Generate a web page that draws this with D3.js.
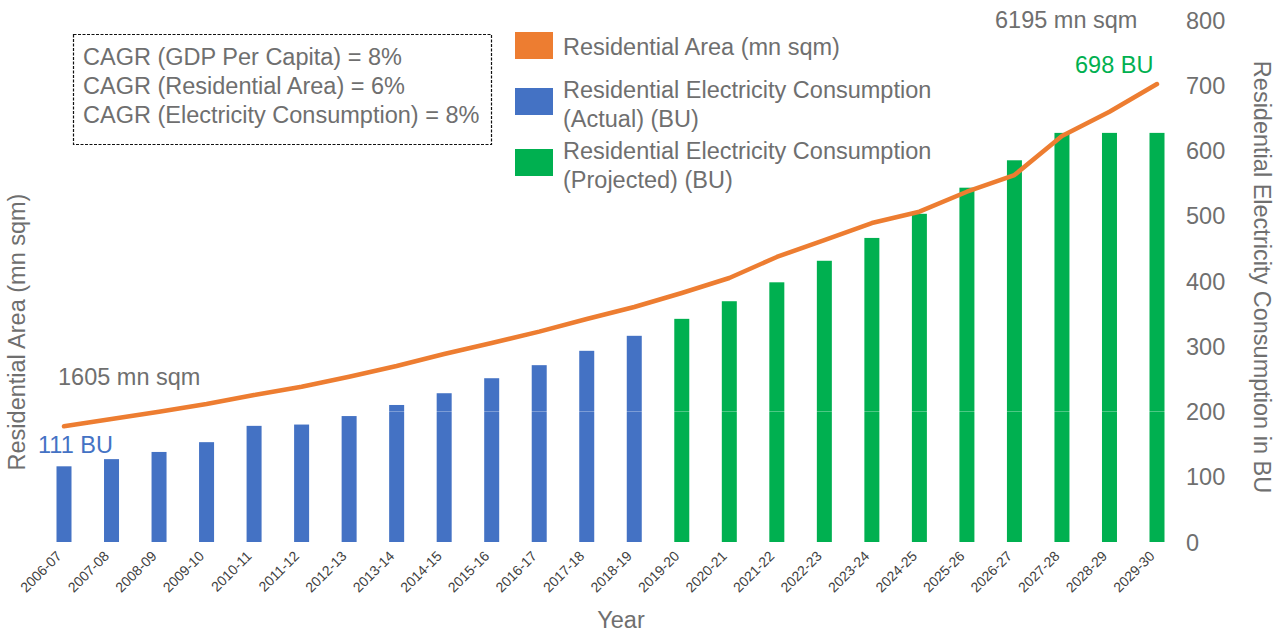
<!DOCTYPE html>
<html>
<head>
<meta charset="utf-8">
<script src="https://cdn.jsdelivr.net/npm/d3@7"></script>
<style>
  html, body { margin: 0; padding: 0; background: #fff; }
  svg { display: block; font-family: "Liberation Sans", Arial, sans-serif; }
</style>
</head>
<body>
<svg id="chart" width="1279" height="635"></svg>
<script>
const years = ["2006-07","2007-08","2008-09","2009-10","2010-11","2011-12","2012-13","2013-14","2014-15","2015-16","2016-17","2017-18","2018-19","2019-20","2020-21","2021-22","2022-23","2023-24","2024-25","2025-26","2026-27","2027-28","2028-29","2029-30"];
const actualYears = ["2006-07","2007-08","2008-09","2009-10","2010-11","2011-12","2012-13","2013-14","2014-15","2015-16","2016-17","2017-18","2018-19"];
const actualBU = [116,127,138,153,178,180,193,210,228,251,271,293,316];
const projectedYears = ["2019-20","2020-21","2021-22","2022-23","2023-24","2024-25","2025-26","2026-27","2027-28","2028-29","2029-30"];
const projectedBU = [342,369,398,431,466,503,543,585,627,627,627];
const areaMnSqm = [1605,1703,1801,1904,2025,2136,2270,2414,2575,2722,2874,3044,3205,3393,3594,3876,4103,4331,4483,4751,4975,5498,5824,6195];
const rightTicks = [0,100,200,300,400,500,600,700,800];
const cagrLines = ["CAGR (GDP Per Capita) = 8%","CAGR (Residential Area) = 6%","CAGR (Electricity Consumption) = 8%"];
const legendItems = [
  {lines:["Residential Area (mn sqm)"], color:"#ED7D31"},
  {lines:["Residential Electricity Consumption","(Actual) (BU)"], color:"#4472C4"},
  {lines:["Residential Electricity Consumption","(Projected) (BU)"], color:"#00B050"}
];

const svg = d3.select("#chart");
const gray = "#6f6f6f";
const orange = "#ED7D31", blue = "#4472C4", green = "#00B050";
const fs = "23.5px";

const x = d3.scalePoint().domain(years).range([64, 1157]);
const yR = d3.scaleLinear().domain([0, 800]).range([542, 20]);
const yL = d3.scaleLinear().domain([0, 7000]).range([546, 24]); // hidden axis for area
const barW = 15;

// bars
svg.append("g").selectAll("rect").data(actualYears.map((d,i)=>({y:d,v:actualBU[i]})))
  .join("rect")
  .attr("x", d => x(d.y) - barW/2).attr("width", barW)
  .attr("y", d => yR(d.v)).attr("height", d => yR(0) - yR(d.v))
  .attr("fill", blue);
svg.append("g").selectAll("rect").data(projectedYears.map((d,i)=>({y:d,v:projectedBU[i]})))
  .join("rect")
  .attr("x", d => x(d.y) - barW/2).attr("width", barW)
  .attr("y", d => yR(d.v)).attr("height", d => yR(0) - yR(d.v))
  .attr("fill", green);

// faint gridline at 200 crossing bars
svg.append("line").attr("x1", 40).attr("x2", 1181)
  .attr("y1", yR(200)).attr("y2", yR(200))
  .attr("stroke", "#ffffff").attr("stroke-opacity", 0.3).attr("stroke-width", 1);

// line
const line = d3.line().x((d,i)=>x(years[i])).y(d=>yL(d));
svg.append("path").datum(areaMnSqm)
  .attr("d", line).attr("fill","none")
  .attr("stroke", orange).attr("stroke-width", 4.5)
  .attr("stroke-linecap","round").attr("stroke-linejoin","round");

// right axis
const rAxis = d3.axisRight(yR).tickValues(rightTicks).tickSize(0).tickPadding(0);
const rg = svg.append("g").attr("transform","translate(1186,0)").call(rAxis);
rg.select(".domain").remove();
rg.selectAll("text").attr("fill", gray).style("font-size", fs).attr("dy","0.35em");

// x axis labels
const xAxis = d3.axisBottom(x).tickSize(0).tickPadding(0);
const xg = svg.append("g").attr("transform","translate(0,548)").call(xAxis);
xg.select(".domain").remove();
xg.selectAll("text")
  .attr("fill","#404040").style("font-size","14px")
  .attr("text-anchor","end")
  .attr("transform","translate(-2,9) rotate(-45)")
  .attr("dy","0").attr("y",0);

// axis titles
svg.append("text").attr("x", 621).attr("y", 628).attr("text-anchor","middle")
  .attr("fill", gray).style("font-size", fs).text("Year");
svg.append("text").attr("transform","translate(25,332) rotate(-90)").attr("text-anchor","middle")
  .attr("fill", gray).style("font-size", fs).text("Residential Area (mn sqm)");
svg.append("text").attr("transform","translate(1254,277) rotate(90)").attr("text-anchor","middle")
  .attr("fill", gray).style("font-size", fs).text("Residential Electricity Consumption in BU");

// CAGR box
svg.append("rect").attr("x",73.5).attr("y",34.5).attr("width",418).attr("height",110)
  .attr("fill","none").attr("stroke","#111").attr("stroke-width",1.2).attr("stroke-dasharray","3,1.5");
svg.append("g").selectAll("text").data(cagrLines).join("text")
  .attr("x", 83).attr("y", (d,i)=>65 + i*29)
  .attr("fill", gray).style("font-size", fs).text(d=>d);

// legend
const legY = [32, 88, 149];
const lg = svg.append("g");
legendItems.forEach((it, i) => {
  lg.append("rect").attr("x", 515).attr("y", legY[i]).attr("width", 38).attr("height", 27).attr("fill", it.color);
  it.lines.forEach((t, j) => {
    lg.append("text").attr("x", 563).attr("y", legY[i] + 23 + (i === 0 ? 0 : -13) + j*29)
      .attr("fill", gray).style("font-size", fs).text(t);
  });
});

// annotations
svg.append("text").attr("x", 58).attr("y", 385).attr("fill", gray).style("font-size", fs).text("1605 mn sqm");
svg.append("text").attr("x", 38).attr("y", 453).attr("fill", blue).style("font-size", fs).text("111 BU");
svg.append("text").attr("x", 995).attr("y", 28).attr("fill", gray).style("font-size", fs).text("6195 mn sqm");
svg.append("text").attr("x", 1075).attr("y", 73).attr("fill", green).style("font-size", fs).text("698 BU");
</script>
</body>
</html>
